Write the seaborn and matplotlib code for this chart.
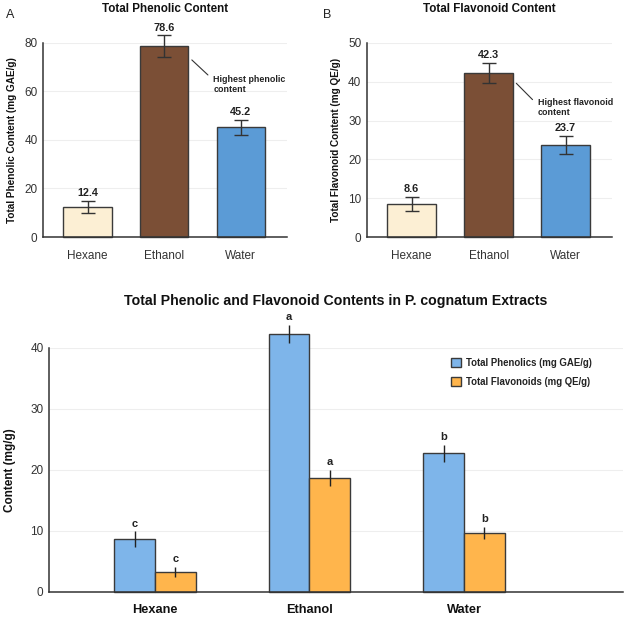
import numpy as np
import pandas as pd
import matplotlib
matplotlib.use("Agg")
import matplotlib.pyplot as plt
import seaborn as sns

# data
solvents = ["Hexane", "Ethanol", "Water"]
phenolic = [12.4, 78.6, 45.2]
phenolic_err = [2.5, 4.5, 3.2]
flavonoid = [8.6, 42.3, 23.7]
flavonoid_err = [1.8, 2.6, 2.3]

# combined panel values
comb_phenolic = [8.6, 42.2, 22.7]
comb_phenolic_err = [1.3, 1.5, 1.4]
comb_flavonoid = [3.2, 18.7, 9.6]
comb_flavonoid_err = [0.8, 1.3, 1.0]
letters_phenolic = ["c", "a", "b"]
letters_flavonoid = ["c", "a", "b"]
series_names = ["Total Phenolics (mg GAE/g)", "Total Flavonoids (mg QE/g)"]

sns.set_theme(style="white")
plt.rcParams['font.family'] = ['Liberation Sans', 'DejaVu Sans']

solvent_colors = ["#FCEFD4", "#7B4F36", "#5B9BD6"]
series_colors = ["#7EB5EA", "#FFB54C"]
edge = "#3a3a3a"
grid_c = "#eeeeee"

fig = plt.figure(figsize=(6.25, 6.18), dpi=100)


def style_axes(ax):
    for s in ["top", "right"]:
        ax.spines[s].set_visible(False)
    for s in ["left", "bottom"]:
        ax.spines[s].set_color("#333333")
        ax.spines[s].set_linewidth(1.1)
    ax.tick_params(length=0, labelsize=8.5, colors="#333333", pad=4)
    ax.yaxis.grid(True, color=grid_c, lw=0.8)
    ax.set_axisbelow(True)


def single_panel(ax, vals, errs, ymax, ystep, ylabel, title, note, note_xy, line_xy):
    df = pd.DataFrame({"Solvent": solvents, "Value": vals})
    sns.barplot(data=df, x="Solvent", y="Value", hue="Solvent", palette=solvent_colors,
                saturation=1, width=0.63, edgecolor=edge, linewidth=1.0, errorbar=None,
                legend=False, ax=ax)
    centers = [p.get_x() + p.get_width() / 2 for p in ax.patches]
    ax.errorbar(centers, vals, yerr=errs, fmt="none", ecolor="#333333", elinewidth=1.0,
                capsize=5, capthick=1.0, clip_on=False, zorder=4)
    for c, v, e in zip(centers, vals, errs):
        ax.annotate(f"{v}", (c, v + e), xytext=(0, 2), textcoords="offset points",
                    ha="center", va="bottom", fontsize=7.8, fontweight="bold",
                    color="#222222", annotation_clip=False)
    ax.plot(line_xy[0], line_xy[1], color="#333333", lw=0.8, clip_on=False)
    ax.text(note_xy[0], note_xy[1], note, fontsize=6.4, fontweight="bold", color="#222222",
            ha="left", va="top", linespacing=1.15)
    ax.set_xlim(-0.58, 2.6)
    ax.set_ylim(0, ymax)
    ax.set_yticks(np.arange(0, ymax + 0.1, ystep))
    style_axes(ax)
    ax.set_xlabel("")
    ax.set_ylabel(ylabel, fontsize=7.2, fontweight="bold", color="#111111", labelpad=5)
    ax.tick_params(axis="x", pad=9)
    ax.set_title(title, fontsize=8.4, fontweight="bold", color="#111111", pad=22)
    for p in ax.patches:
        p.set_clip_on(False)
    return ax


axA = fig.add_axes([0.069, 0.6165, 0.390, 0.314])
single_panel(axA, phenolic, phenolic_err, 80, 20, "Total Phenolic Content (mg GAE/g)",
             "Total Phenolic Content", "Highest phenolic\ncontent",
             (1.64, 66.8), ([1.36, 1.57], [73, 66.8]))
fig.text(0.01, 0.986, "A", fontsize=9, ha="left", va="top", color="#222222")

axB = fig.add_axes([0.587, 0.6165, 0.392, 0.314])
single_panel(axB, flavonoid, flavonoid_err, 50, 10, "Total Flavonoid Content (mg QE/g)",
             "Total Flavonoid Content", "Highest flavonoid\ncontent",
             (1.64, 35.7), ([1.36, 1.57], [39.6, 35.4]))
fig.text(0.517, 0.986, "B", fontsize=9, ha="left", va="top", color="#222222")

# combined grouped panel
axC = fig.add_axes([0.0784, 0.0426, 0.9186, 0.3948])
long_df = pd.DataFrame({
    "Solvent": solvents * 2,
    "Series": [series_names[0]] * 3 + [series_names[1]] * 3,
    "Value": comb_phenolic + comb_flavonoid,
})
sns.barplot(data=long_df, x="Solvent", y="Value", hue="Series", palette=series_colors,
            saturation=1, width=0.53, edgecolor=edge, linewidth=1.0, errorbar=None, ax=axC)
bars = [p for p in axC.patches if p.get_height() > 0]
bars = sorted(bars, key=lambda p: p.get_x())
centers = [p.get_x() + p.get_width() / 2 for p in bars]
vals = [v for pair in zip(comb_phenolic, comb_flavonoid) for v in pair]
errs = [e for pair in zip(comb_phenolic_err, comb_flavonoid_err) for e in pair]
lets = [l for pair in zip(letters_phenolic, letters_flavonoid) for l in pair]
axC.errorbar(centers, vals, yerr=errs, fmt="none", ecolor="#222222", elinewidth=1.0,
             capsize=0, clip_on=False, zorder=4)
for c, v, e, l in zip(centers, vals, errs, lets):
    axC.annotate(l, (c, v + e), xytext=(0, 2), textcoords="offset points",
                 ha="center", va="bottom", fontsize=8, fontweight="bold",
                 color="#222222", annotation_clip=False)
for p in axC.patches:
    p.set_clip_on(False)
axC.set_xlim(-0.686, 3.03)
axC.set_ylim(0, 40)
axC.set_yticks([0, 10, 20, 30, 40])
style_axes(axC)
axC.tick_params(axis="x", labelsize=9.2, pad=9)
for t in axC.get_xticklabels():
    t.set_fontweight("bold")
    t.set_color("#111111")
axC.set_xlabel("")
axC.set_ylabel("Content (mg/g)", fontsize=8.5, fontweight="bold", color="#111111", labelpad=10)
axC.set_title("Total Phenolic and Flavonoid Contents in P. cognatum Extracts",
              fontsize=10.2, fontweight="bold", color="#111111", pad=31)
leg = axC.legend(loc="upper left", bbox_to_anchor=(0.685, 0.995), frameon=False,
                 fontsize=6.9, handlelength=1.1, handleheight=1.1, handletextpad=0.5,
                 labelspacing=0.95)
for t in leg.get_texts():
    t.set_fontweight("bold")
    t.set_color("#222222")

fig.savefig("out.png", dpi=100)
